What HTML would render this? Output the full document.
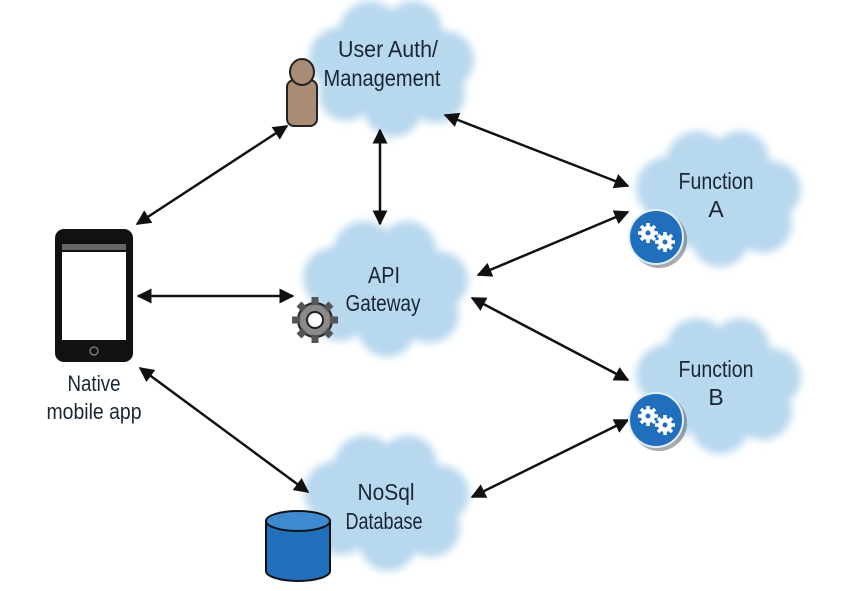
<!DOCTYPE html>
<html><head><style>body{margin:0;background:#fff}svg{display:block}text{font-family:"Liberation Sans",sans-serif;fill:#1a2634}</style></head>
<body>
<svg width="854" height="591" viewBox="0 0 854 591" xmlns="http://www.w3.org/2000/svg">
<defs>
<filter id="bl" x="-20%" y="-20%" width="140%" height="140%"><feGaussianBlur stdDeviation="4"/></filter>
<g id="cloud" fill="#b8d8ee" filter="url(#bl)">
<ellipse cx="0" cy="0" rx="66" ry="45"/>
<circle cx="-48" cy="-10" r="31"/>
<circle cx="-18" cy="-36" r="31"/>
<circle cx="25" cy="-38" r="29"/>
<circle cx="57" cy="-8" r="29"/>
<circle cx="48" cy="26" r="29"/>
<circle cx="5" cy="40" r="29"/>
<circle cx="-42" cy="26" r="27"/>
</g>
<marker id="ah" viewBox="0 0 10 10" refX="9" refY="5" markerWidth="6" markerHeight="6" orient="auto-start-reverse"><path d="M0,0L10,5L0,10z" fill="#111"/></marker>
<g id="gears" fill="#fff">
<circle cx="-8" cy="-4" r="7"/><circle cx="9" cy="5" r="7"/>
<g stroke="#fff" stroke-width="3.5"><path d="M-8,-14v20M-18,-4h20M-15,-11l14,14M-15,3l14,-14"/><path d="M9,-5v20M-1,5h20M2,-2l14,14M2,12l14,-14"/></g>
<circle cx="-8" cy="-4" r="2.5" fill="#1f6fbd"/><circle cx="9" cy="5" r="2.5" fill="#1f6fbd"/>
</g>
</defs>
<use href="#cloud" x="388" y="68"/>
<use href="#cloud" x="382" y="288"/>
<use href="#cloud" x="715" y="198"/>
<use href="#cloud" x="715" y="385"/>
<use href="#cloud" x="383" y="502"/>
<g stroke="#111" stroke-width="2.5" marker-start="url(#ah)" marker-end="url(#ah)">
<line x1="137" y1="224" x2="287" y2="126"/>
<line x1="380" y1="130" x2="380" y2="224"/>
<line x1="445" y1="115" x2="628" y2="186"/>
<line x1="138" y1="296" x2="293" y2="296"/>
<line x1="478" y1="275" x2="628" y2="212"/>
<line x1="472" y1="298" x2="628" y2="380"/>
<line x1="140" y1="368" x2="308" y2="492"/>
<line x1="472" y1="497" x2="628" y2="420"/>
</g>
<g font-size="23" text-anchor="middle" lengthAdjust="spacingAndGlyphs">
<text x="388" y="57" textLength="100" lengthAdjust="spacingAndGlyphs">User Auth/</text>
<text x="382" y="86" textLength="117" lengthAdjust="spacingAndGlyphs">Management</text>
<text x="384" y="283" textLength="32" lengthAdjust="spacingAndGlyphs">API</text>
<text x="383" y="311" textLength="75" lengthAdjust="spacingAndGlyphs">Gateway</text>
<text x="716" y="189" textLength="75" lengthAdjust="spacingAndGlyphs">Function</text>
<text x="716" y="217">A</text>
<text x="716" y="377" textLength="75" lengthAdjust="spacingAndGlyphs">Function</text>
<text x="716" y="405">B</text>
<text x="386" y="500" textLength="57" lengthAdjust="spacingAndGlyphs">NoSql</text>
<text x="384" y="529" textLength="77" lengthAdjust="spacingAndGlyphs">Database</text>
<text x="94" y="391" font-size="22" textLength="53" lengthAdjust="spacingAndGlyphs">Native</text>
<text x="94" y="419" font-size="22" textLength="95" lengthAdjust="spacingAndGlyphs">mobile app</text>
</g>
<!-- phone -->
<rect x="55" y="229" width="78" height="133" rx="9" fill="#111"/>
<rect x="62" y="252" width="64" height="88" fill="#fff"/>
<rect x="62" y="244" width="64" height="6" fill="#666"/>
<circle cx="94" cy="351" r="4" fill="none" stroke="#777" stroke-width="1.5"/>
<!-- person -->
<rect x="287" y="80" width="30" height="46" rx="7" fill="#a88c73" stroke="#222" stroke-width="2"/>
<ellipse cx="302" cy="72" rx="12" ry="13" fill="#a88c73" stroke="#222" stroke-width="2"/>
<!-- gear -->
<g transform="translate(315,320)">
<circle r="17" fill="#777" stroke="#222" stroke-width="2"/>
<g stroke="#555" stroke-width="7"><path d="M0,-23v46M-23,0h46M-16,-16l32,32M-16,16l32,-32"/></g>
<circle r="15" fill="#8a8a8a"/>
<circle r="8" fill="#fff" stroke="#222" stroke-width="2"/>
</g>
<!-- blue function icons -->
<circle cx="659" cy="240" r="28" fill="#555" opacity=".5"/>
<circle cx="656" cy="237" r="27" fill="#1f6fbd" stroke="#e0eef8" stroke-width="2"/>
<use href="#gears" x="656" y="237"/>
<circle cx="659" cy="423" r="28" fill="#555" opacity=".5"/>
<circle cx="656" cy="420" r="27" fill="#1f6fbd" stroke="#e0eef8" stroke-width="2"/>
<use href="#gears" x="656" y="420"/>
<!-- database -->
<path d="M266,521v50a32,10 0 0 0 64,0v-50z" fill="#1f6fbd" stroke="#111" stroke-width="2"/>
<ellipse cx="298" cy="521" rx="32" ry="10" fill="#3d8ad0" stroke="#111" stroke-width="2"/>
</svg>
</body></html>
